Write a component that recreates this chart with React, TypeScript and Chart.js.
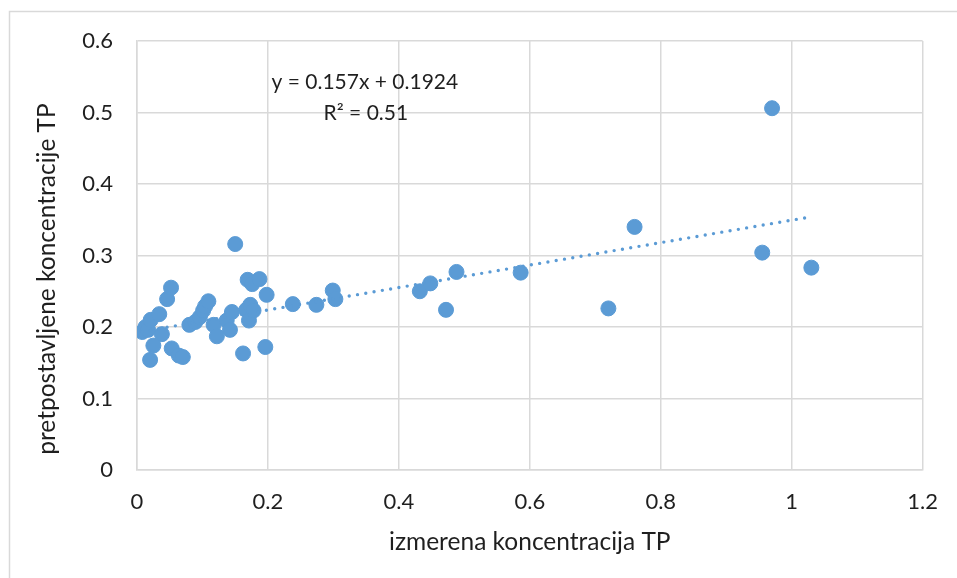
import React, { useEffect, useRef } from "react";
import { Chart, registerables } from "chart.js";

Chart.register(...registerables);

// measured (x) and predicted (y) TP concentrations
const measuredTP: number[] = [
  0.008, 0.013, 0.017, 0.021, 0.034, 0.038, 0.025, 0.020, 0.046, 0.052,
  0.053, 0.064, 0.070, 0.080, 0.089, 0.096, 0.101, 0.104, 0.109, 0.117,
  0.122, 0.137, 0.142, 0.145, 0.150, 0.162, 0.167, 0.169, 0.171, 0.173,
  0.176, 0.178, 0.187, 0.198, 0.196, 0.238, 0.274, 0.299, 0.303, 0.432,
  0.448, 0.472, 0.488, 0.586, 0.720, 0.760, 0.955, 0.970, 1.030,
];
const predictedTP: number[] = [
  0.193, 0.200, 0.196, 0.210, 0.218, 0.190, 0.174, 0.154, 0.239, 0.255,
  0.170, 0.160, 0.158, 0.203, 0.207, 0.214, 0.223, 0.229, 0.236, 0.203,
  0.187, 0.209, 0.196, 0.221, 0.316, 0.163, 0.224, 0.266, 0.209, 0.231,
  0.260, 0.223, 0.267, 0.245, 0.172, 0.232, 0.231, 0.251, 0.239, 0.250,
  0.261, 0.224, 0.277, 0.276, 0.226, 0.340, 0.304, 0.506, 0.283,
];

const trendSlope = 0.157;
const trendIntercept = 0.1924;
const equationLines: string[] = ["y = 0.157x + 0.1924", "R² = 0.51"];

const xTicks: number[] = [0, 0.2, 0.4, 0.6, 0.8, 1, 1.2];
const yTicks: number[] = [0, 0.1, 0.2, 0.3, 0.4, 0.5, 0.6];

const xTitle = "izmerena koncentracija TP";
const yTitle = "pretpostavljene koncentracije TP";

const BLUE = "#5B9BD5";
const GRID = "#d9d9d9";
const TEXT = "#1f1f1f";
const FONT = "Lato";

export default function App() {
  const ref = useRef<HTMLCanvasElement>(null);

  useEffect(() => {
    if (!ref.current) return;
    const minX = Math.min(...measuredTP);
    const maxX = Math.max(...measuredTP);
    const trend = [minX, maxX].map((x) => ({ x, y: trendSlope * x + trendIntercept }));

    const decor = {
      id: "decor",
      beforeDraw(chart: any) {
        const ctx = chart.ctx;
        ctx.save();
        ctx.strokeStyle = GRID;
        ctx.lineWidth = 1.5;
        ctx.beginPath();
        ctx.moveTo(9.5, 578);
        ctx.lineTo(9.5, 11.5);
        ctx.lineTo(957, 11.5);
        ctx.stroke();
        ctx.restore();
      },
      afterDraw(chart: any) {
        const ctx = chart.ctx;
        const xs = chart.scales.x;
        const ys = chart.scales.y;
        ctx.save();
        ctx.fillStyle = TEXT;
        ctx.textAlign = "center";
        ctx.textBaseline = "middle";
        // y axis title
        ctx.save();
        ctx.translate(47, 279);
        ctx.rotate(-Math.PI / 2);
        ctx.font = `24.5px ${FONT}`;
        ctx.fillText(yTitle, 0, 0);
        ctx.restore();
        // trendline equation
        ctx.font = `21px ${FONT}`;
        const ex = xs.getPixelForValue(0.348);
        ctx.fillText(equationLines[0], ex, ys.getPixelForValue(0.542));
        ctx.fillText(equationLines[1], ex + 1, ys.getPixelForValue(0.499));
        ctx.restore();
      },
    };

    const chart = new Chart(ref.current, {
      type: "scatter",
      data: {
        datasets: [
          {
            type: "line",
            data: trend,
            borderColor: BLUE,
            borderWidth: 3.4,
            borderDash: [0, 8.4],
            borderCapStyle: "round",
            pointRadius: 0,
            fill: false,
            order: 0,
          } as any,
          {
            data: measuredTP.map((x, i) => ({ x, y: predictedTP[i] })),
            backgroundColor: BLUE,
            borderColor: BLUE,
            borderWidth: 1,
            pointRadius: 7.5,
            order: 1,
          },
        ],
      },
      options: {
        animation: false,
        responsive: false,
        maintainAspectRatio: false,
        layout: { padding: { top: 41, right: 32, left: 0, bottom: 0 } },
        plugins: {
          legend: { display: false },
          tooltip: { enabled: false },
        },
        scales: {
          x: {
            type: "linear",
            min: 0,
            max: 1.2,
            afterBuildTicks: (s: any) => {
              s.ticks = xTicks.map((v) => ({ value: v }));
            },
            afterFit: (s: any) => {
              s.height = 108;
            },
            grid: { color: GRID, lineWidth: 1.5, drawTicks: false },
            border: { color: GRID, width: 1.5 },
            ticks: {
              padding: 19,
              color: TEXT,
              font: { family: FONT, size: 22 },
              maxRotation: 0,
              callback: (v: any) => String(v),
            },
            title: {
              display: true,
              text: xTitle,
              color: TEXT,
              font: { family: FONT, size: 24.5 },
              padding: { top: 0, bottom: 21 },
            },
          },
          y: {
            type: "linear",
            min: 0,
            max: 0.6,
            afterBuildTicks: (s: any) => {
              s.ticks = yTicks.map((v) => ({ value: v }));
            },
            afterFit: (s: any) => {
              s.width = 137;
            },
            grid: { color: GRID, lineWidth: 1.5, drawTicks: false },
            border: { color: GRID, width: 1.5 },
            ticks: {
              padding: 24,
              color: TEXT,
              font: { family: FONT, size: 22 },
              callback: (v: any) => String(v),
            },
          },
        },
      },
      plugins: [decor],
    });
    return () => chart.destroy();
  }, []);

  return (
    <div style={{ position: "fixed", left: 0, top: 0, width: 957, height: 578, background: "#fff" }}>
      <canvas ref={ref} width={957} height={578} style={{ display: "block" }} />
    </div>
  );
}
